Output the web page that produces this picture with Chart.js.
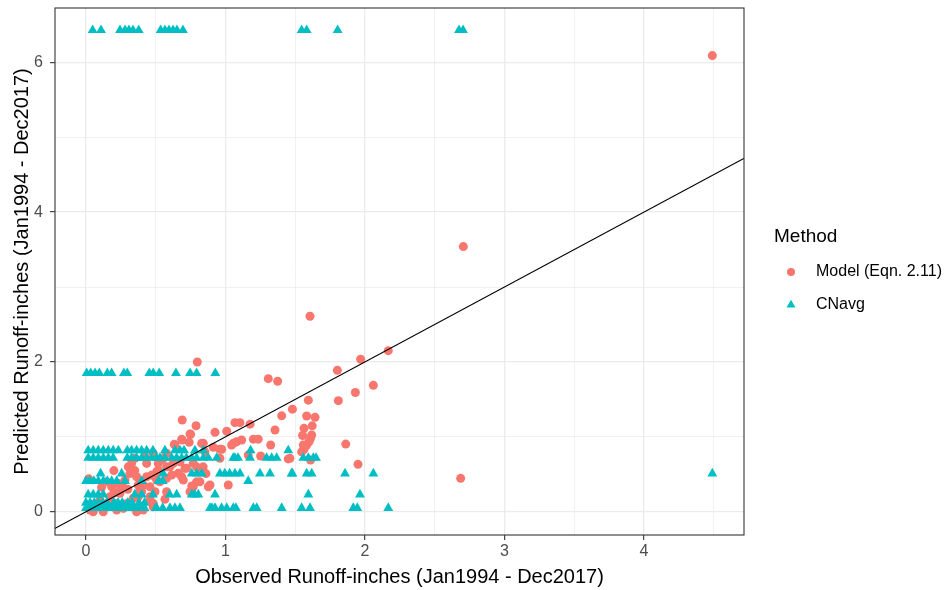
<!DOCTYPE html>
<html>
<head>
  <title>Observed vs Predicted Runoff</title>
  <script src="https://cdn.jsdelivr.net/npm/chart.js"></script>
  <style>
    body {
      margin: 0;
      background: #ffffff;
    }
    #wrap {
      width: 952px;
      height: 590px;
    }
  </style>
</head>
<body>
  <div id="wrap">
    <canvas id="runoffChart" width="952" height="590"></canvas>
  </div>

  <script>
    // Model (Eqn. 2.11): observed (x) and predicted (y)
    const modelObs = [
      4.49, 2.705, 2.686, 1.606, 0.798, 1.969, 2.167, 1.802, 2.06, 1.931, 1.809, 1.862, 1.95, 1.307, 1.374,
      1.594, 1.48, 1.403, 1.582, 1.642, 1.563, 1.622, 1.553, 1.618, 1.563, 1.582, 1.599, 1.61, 1.61, 1.462,
      1.355, 1.068, 1.104, 1.176, 0.925, 1.009, 0.75, 0.686, 0.74, 0.638, 0.841, 0.913, 0.973, 1.044, 1.08,
      1.116, 1.2, 1.235, 1.324, 1.45, 1.252, 1.163, 1.02, 0.96, 0.889, 0.86, 1.056, 1.558, 1.546,
      0.69, 0.789, 0.746, 0.69, 0.829, 0.633, 0.96, 0.853, 0.578, 0.554, 0.65, 0.518, 0.602, 0.507, 0.71,
      0.805, 0.769, 0.471, 0.507, 0.698, 0.686, 0.817, 0.758, 0.578, 0.566, 0.459, 0.482, 0.877, 0.746, 0.793,
      0.769, 0.793, 0.84, 0.72, 0.626, 0.578, 0.518, 0.495, 0.435, 0.482, 0.351, 0.41, 0.375, 0.495, 0.482,
      0.53, 0.578, 0.614, 0.662, 0.674, 0.543, 0.41, 0.459, 0.387,
      0.112, 0.184, 0.303, 0.315, 0.28, 0.232, 0.244, 0.172, 0.148, 0.088, 0.029, 0.052, 0.124, 0.292, 0.339,
      0.268, 0.208, 0.22, 0.363, 0.327, 0.363, 0.435, 0.423, 0.244, 0.172, 0.327, 0.399, 0.459, 0.148, 0.375,
      0.2, 0.26, 0.3, 0.1, 0.06, 0.35, 0.02, 0.2
    ];
    const modelPred = [
      6.09, 3.54, 0.446, 2.61, 2.0, 2.036, 2.151, 1.888, 1.688, 1.592, 1.483, 0.904, 0.633, 1.777, 1.742,
      1.49, 1.37, 1.281, 1.279, 1.261, 1.114, 1.147, 1.018, 1.025, 0.834, 0.891, 0.935, 0.98, 0.69, 0.713,
      1.092, 1.19, 1.19, 1.17, 1.06, 1.075, 1.034, 0.967, 0.927, 0.891, 0.914, 0.86, 0.834, 0.891, 0.935,
      0.958, 0.969, 0.969, 0.891, 0.706, 0.744, 0.757, 0.357, 0.713, 0.357, 0.51, 0.914, 0.891, 0.8,
      1.225, 1.149, 1.038, 0.958, 0.914, 0.9, 0.834, 0.8, 0.78, 0.713, 0.69, 0.646, 0.6, 0.534, 0.58,
      0.58, 0.646, 0.49, 0.423, 0.423, 0.468, 0.4, 0.344, 0.267, 0.166, 0.2, 0.067, 0.334, 0.267, 0.4,
      0.334, 0.6, 0.6, 0.58, 0.646, 0.6, 0.557, 0.468, 0.646, 0.78, 0.713, 0.357, 0.2, 0.267, 0.112,
      0.4, 0.446, 0.49, 0.513, 0.668, 0.69, 0.023, 0.334, 0.29,
      0.326, 0.334, 0.6, 0.51, 0.423, 0.379, 0.246, 0.2, 0.112, 0.067, 0.023, 0.0, 0.0, 0.112, 0.18,
      0.045, 0.112, 0.023, 0.0, 0.646, 0.468, 0.468, 0.734, 0.29, 0.156, 0.067, 0.267, 0.156, 0.4, 0.357,
      0.25, 0.35, 0.3, 0.15, 0.1, 0.55, 0.44, 0.55
    ];

    // CNavg: predicted values sit on a few levels, observed values listed per level
    const cnLevels = [6.43, 1.85, 0.82, 0.72, 0.51, 0.41, 0.23, 0.12, 0.05];
    const cnObs643 = [0.048, 0.108, 0.244, 0.28, 0.308, 0.337, 0.378, 0.535, 0.566, 0.595, 0.624, 0.652, 0.695,
      1.546, 1.582, 1.804, 2.674, 2.703];
    const cnObs185 = [0.005, 0.034, 0.065, 0.096, 0.153, 0.184, 0.272, 0.296, 0.454, 0.482, 0.525, 0.645, 0.746,
      0.793, 0.927];
    const cnObs082 = [0.016, 0.052, 0.088, 0.124, 0.16, 0.195, 0.232, 0.296, 0.327, 0.363, 0.399, 0.435, 0.48,
      0.566, 0.638, 0.674, 0.703, 0.781, 0.841, 1.18, 1.45];
    const cnObs072 = [0.016, 0.052, 0.088, 0.124, 0.16, 0.195, 0.296, 0.327, 0.363, 0.399, 0.435, 0.471, 0.507,
      0.53, 0.566, 0.614, 0.65, 0.686, 0.72, 0.758, 0.793, 0.841, 0.877, 0.937, 1.056, 1.068, 1.09, 1.176,
      1.295, 1.331, 1.367, 1.558, 1.594, 1.63, 1.649];
    const cnObs051 = [0.105, 0.256, 0.554, 0.758, 0.793, 0.83, 0.96, 0.995, 1.03, 1.068, 1.104, 1.247, 1.319,
      1.474, 1.48, 1.582, 1.618, 1.857, 2.06, 4.49];
    const cnObs041 = [0.0, 0.029, 0.057, 0.088, 0.124, 0.153, 0.184, 0.22, 0.28, 0.4, 0.52, 0.55, 1.163];
    const cnObs023 = [0.016, 0.052, 0.088, 0.124, 0.35, 0.4, 0.48, 0.6, 0.65, 0.758, 0.78, 0.805, 0.925,
      1.594, 1.964];
    const cnObs012 = [0.0, 0.03, 0.06, 0.09, 0.12, 0.15, 0.2, 0.23, 0.26, 0.3, 0.33, 0.38, 0.42];
    const cnObs005 = [0.0, 0.02, 0.05, 0.08, 0.11, 0.14, 0.17, 0.2, 0.23, 0.26, 0.29, 0.32, 0.35, 0.38, 0.42,
      0.5, 0.507, 0.55, 0.602, 0.638, 0.674, 0.889, 0.903, 0.925, 0.972, 1.009, 1.056, 1.075, 1.2, 1.224,
      1.403, 1.546, 1.606, 1.916, 1.945, 2.167];
    const cnObsByLevel = [cnObs643, cnObs185, cnObs082, cnObs072, cnObs051, cnObs041, cnObs023, cnObs012, cnObs005];

    // 1:1 reference line (y = x)
    const lineX = [-1, 6];

    // axes
    const xRange = [-0.222, 4.717];
    const yRange = [-0.31, 6.725];
    const xTicks = [0, 0.5, 1, 1.5, 2, 2.5, 3, 3.5, 4, 4.5];
    const yTicks = [0, 1, 2, 3, 4, 5, 6];
    const xMajor = [0, 1, 2, 3, 4];
    const yMajor = [0, 2, 4, 6];

    const seriesNames = ['Model (Eqn. 2.11)', 'CNavg'];
    const RED = '#F8766D';
    const TEAL = '#00BFC4';
    const FONT = "'Liberation Sans', Arial, sans-serif";
    const DOT_R = 4.5;
    const TRI_R = 5.7;

    const modelPoints = modelObs.map((x, i) => ({ x: x, y: modelPred[i] }));
    const cnPoints = [];
    cnLevels.forEach((lvl, i) => {
      cnObsByLevel[i].forEach(x => cnPoints.push({ x: x, y: lvl }));
    });
    const linePoints = lineX.map(v => ({ x: v, y: v }));

    function isMajor(list, v) {
      return list.some(m => Math.abs(m - v) < 1e-9);
    }

    // panel border like theme_bw
    const panelBorder = {
      id: 'panelBorder',
      afterDraw(chart) {
        const a = chart.chartArea;
        const ctx = chart.ctx;
        ctx.save();
        ctx.strokeStyle = '#333333';
        ctx.lineWidth = 1.1;
        ctx.strokeRect(a.left, a.top, a.right - a.left, a.bottom - a.top);
        ctx.restore();
      }
    };

    // legend on the right, drawn by hand
    const sideLegend = {
      id: 'sideLegend',
      afterDraw(chart) {
        const ctx = chart.ctx;
        ctx.save();
        ctx.fillStyle = '#000000';
        ctx.textBaseline = 'middle';
        ctx.textAlign = 'left';
        ctx.font = '19px ' + FONT;
        ctx.fillText('Method', 774, 237);
        ctx.font = '16px ' + FONT;
        ctx.fillText(seriesNames[0], 816, 272);
        ctx.fillText(seriesNames[1], 816, 305);
        ctx.fillStyle = RED;
        ctx.beginPath();
        ctx.arc(791, 272, DOT_R - 0.5, 0, Math.PI * 2);
        ctx.fill();
        ctx.fillStyle = TEAL;
        ctx.strokeStyle = TEAL;
        ctx.lineWidth = 0.01;
        Chart.helpers.drawPoint(ctx, { pointStyle: 'triangle', radius: TRI_R - 0.5, rotation: 0, borderWidth: 0 }, 791, 305);
        ctx.restore();
      }
    };

    const ctx = document.getElementById('runoffChart').getContext('2d');
    const chart = new Chart(ctx, {
      type: 'scatter',
      data: {
        datasets: [
          {
            label: 'y = x',
            type: 'line',
            data: linePoints,
            borderColor: '#000000',
            borderWidth: 1.1,
            pointRadius: 0,
            fill: false,
            order: 0
          },
          {
            label: seriesNames[1],
            data: cnPoints,
            pointStyle: 'triangle',
            pointRadius: TRI_R,
            backgroundColor: TEAL,
            borderColor: TEAL,
            borderWidth: 0,
            order: 1
          },
          {
            label: seriesNames[0],
            data: modelPoints,
            pointStyle: 'circle',
            pointRadius: DOT_R,
            backgroundColor: RED,
            borderColor: RED,
            borderWidth: 0,
            order: 2
          }
        ]
      },
      options: {
        responsive: false,
        animation: false,
        layout: {
          padding: { top: 8, right: 208, bottom: 0, left: 0 }
        },
        plugins: {
          legend: { display: false },
          tooltip: { enabled: false }
        },
        scales: {
          x: {
            type: 'linear',
            min: xRange[0],
            max: xRange[1],
            afterBuildTicks: axis => { axis.ticks = xTicks.map(v => ({ value: v })); },
            afterFit: axis => {
              axis.height = 55;
              axis.paddingLeft = 0;
              axis.paddingRight = 0;
            },
            border: { display: false },
            grid: {
              color: '#EBEBEB',
              lineWidth: c => isMajor(xMajor, c.tick.value) ? 1.3 : 0.7,
              tickColor: c => isMajor(xMajor, c.tick.value) ? '#333333' : 'rgba(0,0,0,0)',
              tickLength: 5,
              tickWidth: 1.1
            },
            ticks: {
              autoSkip: false,
              maxRotation: 0,
              padding: 2,
              color: '#4D4D4D',
              font: { family: FONT, size: 16 },
              callback: v => isMajor(xMajor, v) ? String(v) : ''
            },
            title: {
              display: true,
              text: 'Observed Runoff-inches (Jan1994 - Dec2017)',
              color: '#000000',
              font: { family: FONT, size: 20 },
              padding: { top: 0, bottom: 1 }
            }
          },
          y: {
            type: 'linear',
            min: yRange[0],
            max: yRange[1],
            afterBuildTicks: axis => { axis.ticks = yTicks.map(v => ({ value: v })); },
            afterFit: axis => {
              axis.width = 55;
              axis.paddingTop = 0;
              axis.paddingBottom = 0;
            },
            border: { display: false },
            grid: {
              color: '#EBEBEB',
              lineWidth: c => isMajor(yMajor, c.tick.value) ? 1.3 : 0.7,
              tickColor: c => isMajor(yMajor, c.tick.value) ? '#333333' : 'rgba(0,0,0,0)',
              tickLength: 5,
              tickWidth: 1.1
            },
            ticks: {
              autoSkip: false,
              padding: 7,
              color: '#4D4D4D',
              font: { family: FONT, size: 16 },
              callback: v => isMajor(yMajor, v) ? String(v) : ''
            },
            title: {
              display: true,
              text: 'Predicted Runoff-inches (Jan1994 - Dec2017)',
              color: '#000000',
              font: { family: FONT, size: 20 },
              padding: { top: 10, bottom: 0 }
            }
          }
        }
      },
      plugins: [panelBorder, sideLegend]
    });
  </script>
</body>
</html>
